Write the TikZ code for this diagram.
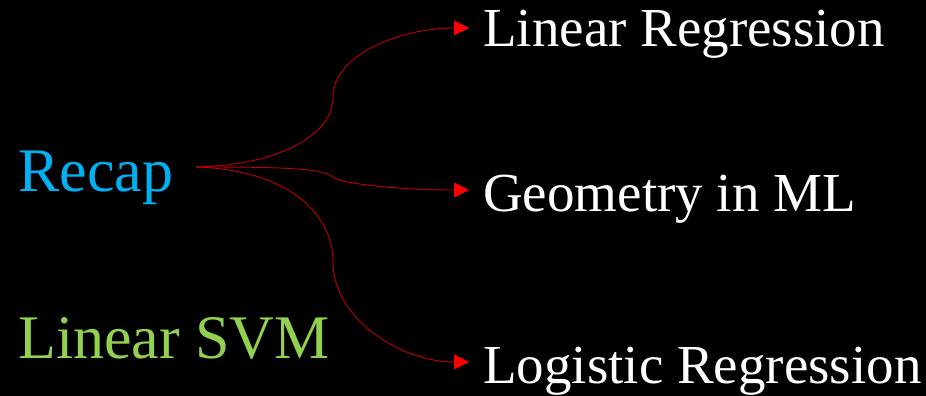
\documentclass[tikz,border=0pt]{standalone}
\usepackage{fontspec}
\setmainfont{Liberation Serif}
\usetikzlibrary{arrows.meta}
\definecolor{cyanc}{HTML}{00B0F0}
\definecolor{greenc}{HTML}{92D050}
\definecolor{linec}{HTML}{C00000}
\begin{document}
\begin{tikzpicture}[x=1pt,y=-1pt,
  lbl/.style={anchor=base west,inner sep=0pt,font=\fontsize{62}{66}\selectfont},
  rlbl/.style={anchor=base west,inner sep=0pt,text=white,font=\fontsize{55}{60}\selectfont},
  conn/.style={draw=linec,line width=0.9pt,-{Triangle[length=15pt,width=15pt,color=red,fill=red]}}]
\fill[black] (0,0) rectangle (926,396);
\useasboundingbox (0,0) rectangle (926,396);
\node[lbl,text=cyanc] (recap) at (18,191) {Recap};
\node[lbl,text=greenc] (svm) at (18,358) {Linear SVM};
\node[rlbl] (lr) at (483,47) {Linear Regression};
\node[rlbl] (geo) at (483,211) {Geometry in ML};
\node[rlbl] (log) at (483,383) {Logistic Regression};
\coordinate (s) at (196,167);
\coordinate (e1) at (469,28);
\coordinate (e2) at (469,190);
\coordinate (e3) at (469,362);
\draw[conn] (s) .. controls (280,165) and (333,135) .. (333,97) .. controls (333,55) and (400,28) .. (e1);
\draw[conn] (s) .. controls (280,167) and (322,168) .. (333,177) .. controls (342,184) and (400,190) .. (e2);
\draw[conn] (s) .. controls (290,170) and (333,215) .. (333,262) .. controls (333,318) and (400,362) .. (e3);
\end{tikzpicture}
\end{document}
